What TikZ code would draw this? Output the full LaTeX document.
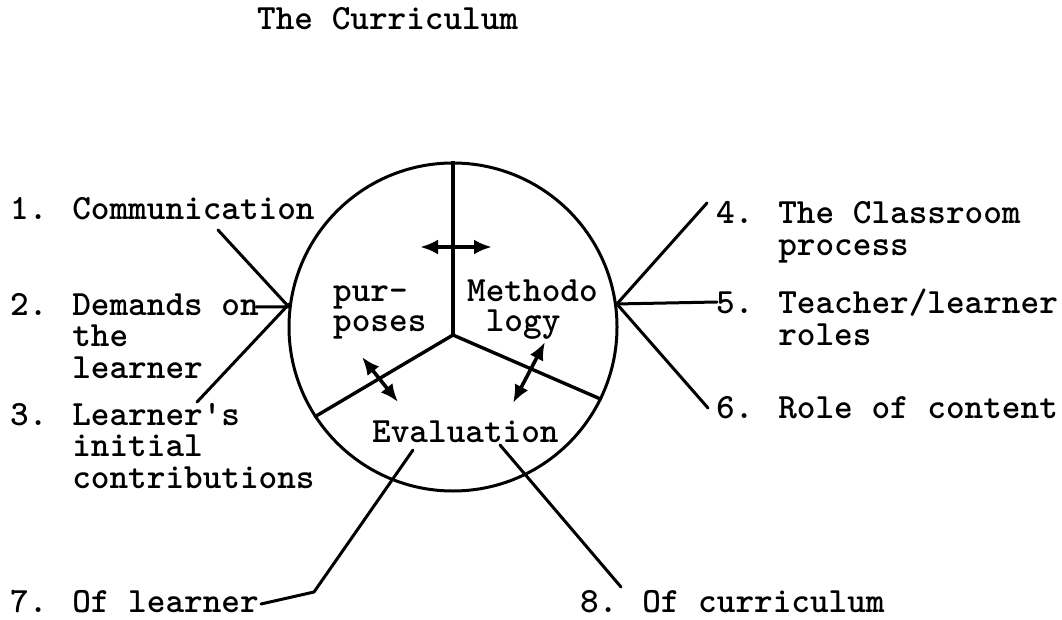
\documentclass[tikz,border=0pt]{standalone}
\usetikzlibrary{arrows.meta}
\newcommand{\typefont}{\ttfamily\bfseries\fontsize{35.5pt}{31.5pt}\selectfont}
\newcommand{\innerfont}{\ttfamily\bfseries\fontsize{35.5pt}{30pt}\selectfont}
\tikzset{
  ring/.style={
    circle, draw, line width=3pt, minimum size=328pt, inner sep=0pt
  },
  spoke/.style={line width=3.4pt},
  leader/.style={line width=3pt, line cap=round, line join=round},
  twoway/.style={
    {Latex[length=18pt,width=15pt]}-{Latex[length=18pt,width=15pt]},
    line width=3.6pt
  },
  itemlabel/.style={anchor=base west, align=left, inner sep=0pt, font=\typefont},
  innerlabel/.style={anchor=base west, align=left, inner sep=0pt, font=\innerfont}
}

\begin{document}
\begin{tikzpicture}[x=1pt,y=-1pt]
  \useasboundingbox (0,0) rectangle (1062,620);
  \node[itemlabel] (title) at (257,30) {The Curriculum};

  % The circle and its three sectors.
  \node[ring] (wheel) at (453,327) {};
  \coordinate (hub) at (453,335);
  \draw[spoke] (hub) -- (wheel.90);
  \draw[spoke] (hub) -- (wheel.213);
  \draw[spoke] (hub) -- (wheel.334);

  % (multi-line labels sit on the baseline of their last line)
  \node[innerlabel] (purp) at (333,331) {pur-\\poses};
  \node[innerlabel] (meth) at (467,331) {Methodo\\\phantom{M}logy};
  \node[innerlabel] (eval) at (372,442) {Evaluation};

  % Two-way links between sectors.
  \coordinate (pm1) at (420,247);
  \coordinate (pm2) at (492,247);
  \coordinate (pe1) at (362,357);
  \coordinate (pe2) at (398,402);
  \coordinate (me1) at (545,342);
  \coordinate (me2) at (513,403);
  \draw[twoway] (pm1) -- (pm2);
  \draw[twoway] (pe1) -- (pe2);
  \draw[twoway] (me1) -- (me2);

  % Left-hand items.
  \node[itemlabel] (item1) at (10,220) {1. Communication};
  \node[itemlabel] (item2) at (10,378) {2. Demands on\\\phantom{2. }the\\\phantom{2. }learner};
  \node[itemlabel] (item3) at (10,488) {3. Learner\textquotesingle s\\\phantom{3. }initial\\\phantom{3. }contributions};
  \coordinate (end1) at (218,230);
  \coordinate (end2) at (256,307);
  \coordinate (end3) at (197,402);
  \draw[leader] (end1) -- (wheel.173);
  \draw[leader] (end2) -- (wheel.173);
  \draw[leader] (end3) -- (wheel.172);

  % Right-hand items.
  \node[itemlabel] (item4) at (716,255) {4. The Classroom\\\phantom{4. }process};
  \node[itemlabel] (item5) at (716,345) {5. Teacher/learner\\\phantom{5. }roles};
  \node[itemlabel] (item6) at (716,418) {6. Role of content};
  \coordinate (end4) at (707,203);
  \coordinate (end5) at (717,302);
  \coordinate (end6) at (708,408);
  \draw[leader] (wheel.8) -- (end4);
  \draw[leader] (wheel.8) -- (end5);
  \draw[leader] (wheel.8) -- (end6);

  % Evaluation items below.
  \node[itemlabel] (item7) at (10,612) {7. Of learner};
  \node[itemlabel] (item8) at (580,612) {8. Of curriculum};
  \coordinate (start7) at (413,450);
  \coordinate (bend7) at (314,592);
  \coordinate (end7) at (261,604);
  \coordinate (start8) at (500,445);
  \coordinate (end8) at (621,587);
  \draw[leader] (start7) -- (bend7) -- (end7);
  \draw[leader] (start8) -- (end8);
\end{tikzpicture}
\end{document}
